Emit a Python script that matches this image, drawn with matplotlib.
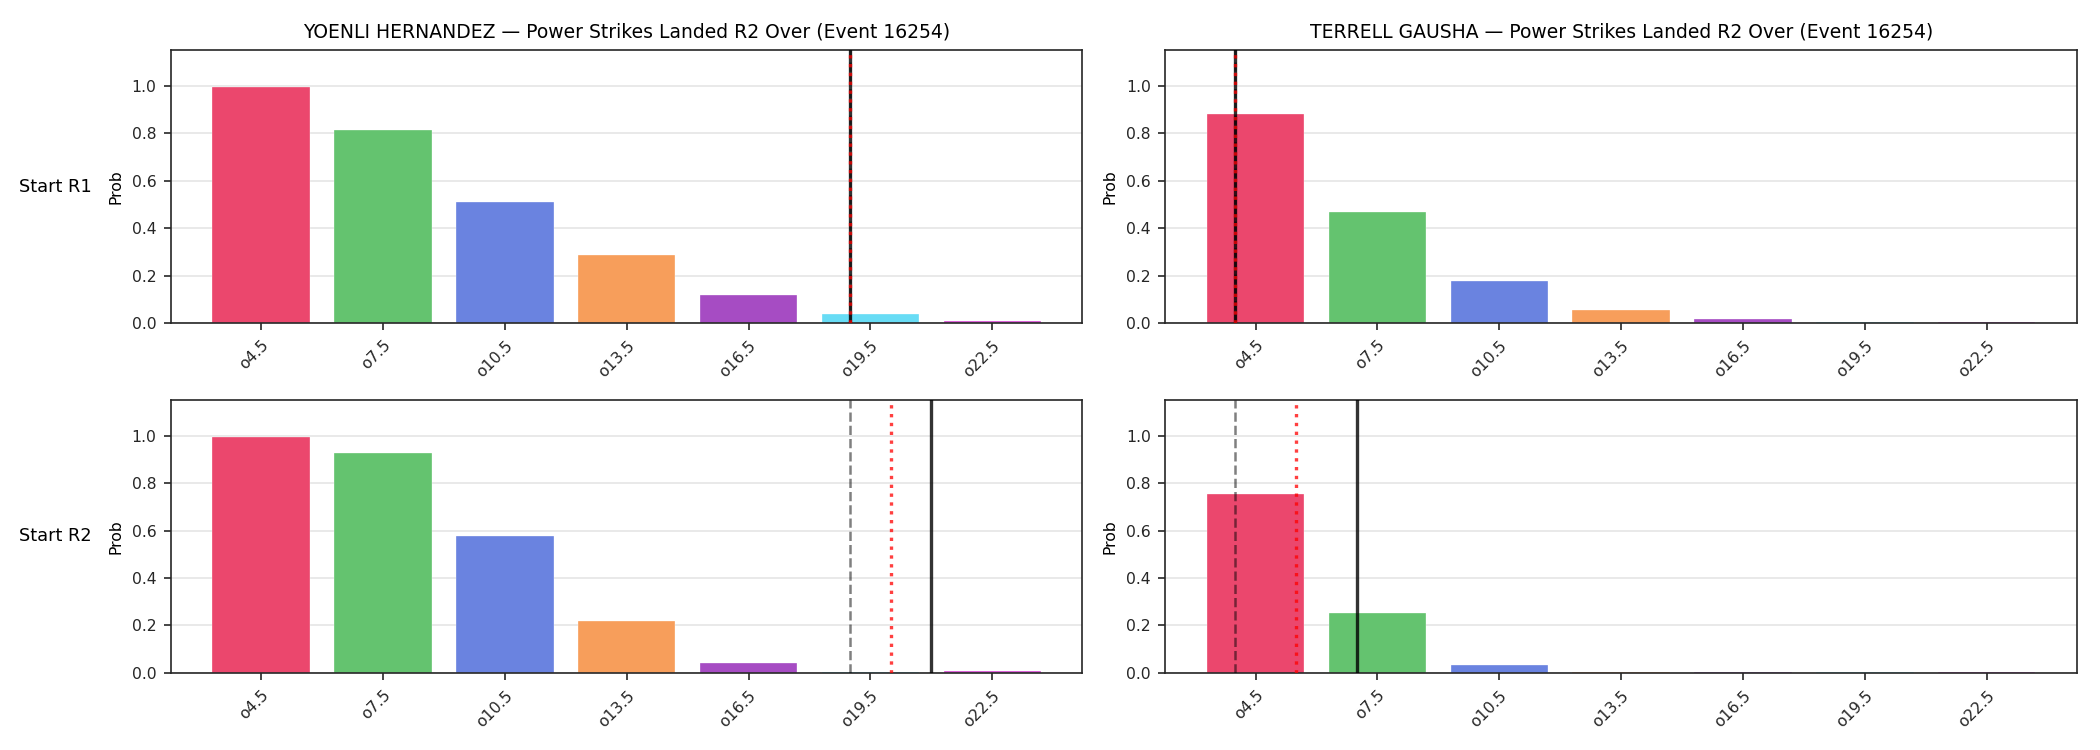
import numpy as np
import matplotlib
matplotlib.use("Agg")
import matplotlib.pyplot as plt

# Over lines and bar colours
lines = ["o4.5", "o7.5", "o10.5", "o13.5", "o16.5", "o19.5", "o22.5"]
line_vals = [4.5, 7.5, 10.5, 13.5, 16.5, 19.5, 22.5]
colors = ["#eb476d", "#64c36f", "#6a83e0", "#f79e5b", "#a64cc3", "#68dcf5", "#d646d2"]

fighters = ["YOENLI HERNANDEZ", "TERRELL GAUSHA"]
rows = ["Start R1", "Start R2"]

# P(over) per row, per fighter
probs_r1_hernandez = [0.995, 0.815, 0.51, 0.285, 0.118, 0.037, 0.008]
probs_r1_gausha = [0.88, 0.469, 0.176, 0.053, 0.015, 0.006, 0.006]
probs_r2_hernandez = [0.995, 0.925, 0.575, 0.22, 0.042, 0.006, 0.007]
probs_r2_gausha = [0.753, 0.253, 0.033, 0.005, 0.006, 0.004, 0.006]

# reference marks (in strikes): market line, projection, actual
market_r1 = [19.0, 4.0]
proj_r1 = [19.0, 4.0]
actual_r1 = [19.0, 4.0]
market_r2 = [19.0, 4.0]
proj_r2 = [20.0, 5.5]
actual_r2 = [21.0, 7.0]

probs = [[probs_r1_hernandez, probs_r1_gausha],
         [probs_r2_hernandez, probs_r2_gausha]]
markets = [market_r1, market_r2]
projs = [proj_r1, proj_r2]
actuals = [actual_r1, actual_r2]


def to_x(v):
  # map a strike count onto the categorical axis
  return (v - line_vals[0]) / (line_vals[1] - line_vals[0])


plt.rcParams["axes.edgecolor"] = "#262626"
plt.rcParams["xtick.color"] = "#262626"
plt.rcParams["ytick.color"] = "#262626"

fig, axes = plt.subplots(2, 2, figsize=(14, 5), dpi=150)
fig.subplots_adjust(left=0.0814, right=0.989, top=0.9333, bottom=0.1027,
                    wspace=0.091, hspace=0.282)

x = np.arange(len(lines))
for r in range(2):
  for c in range(2):
    ax = axes[r, c]
    ax.bar(x, probs[r][c], width=0.8, color=colors, edgecolor="white",
           linewidth=0.15, zorder=2)
    ax.axvline(to_x(actuals[r][c]), color="k", alpha=0.8, ls="-", lw=1.6, zorder=3)
    ax.axvline(to_x(markets[r][c]), color="k", alpha=0.5, ls="--", lw=1.2, zorder=3)
    ax.axvline(to_x(projs[r][c]), color="red", alpha=0.75, ls=":", lw=1.6, zorder=3)
    ax.set_ylim(0, 1.15)
    ax.set_yticks([0, 0.2, 0.4, 0.6, 0.8, 1.0])
    ax.grid(axis="y", color="#e5e5e5", lw=0.8, zorder=0)
    ax.set_axisbelow(True)
    ax.set_xticks(x)
    ax.set_xticklabels(lines, rotation=45, ha="right", rotation_mode="anchor",
                       fontsize=7.5)
    ax.tick_params(axis="y", labelsize=7.5)
    ax.set_ylabel("Prob", fontsize=7.5)
    if r == 0:
      ax.set_title(fighters[c] + " \u2014 Power Strikes Landed R2 Over (Event 16254)",
                   fontsize=9)
  bb = axes[r, 0].get_position()
  fig.text(0.0265, (bb.y0 + bb.y1) / 2, rows[r], fontsize=8.5, ha="center",
           va="center")

fig.savefig("out.png", dpi=150)
